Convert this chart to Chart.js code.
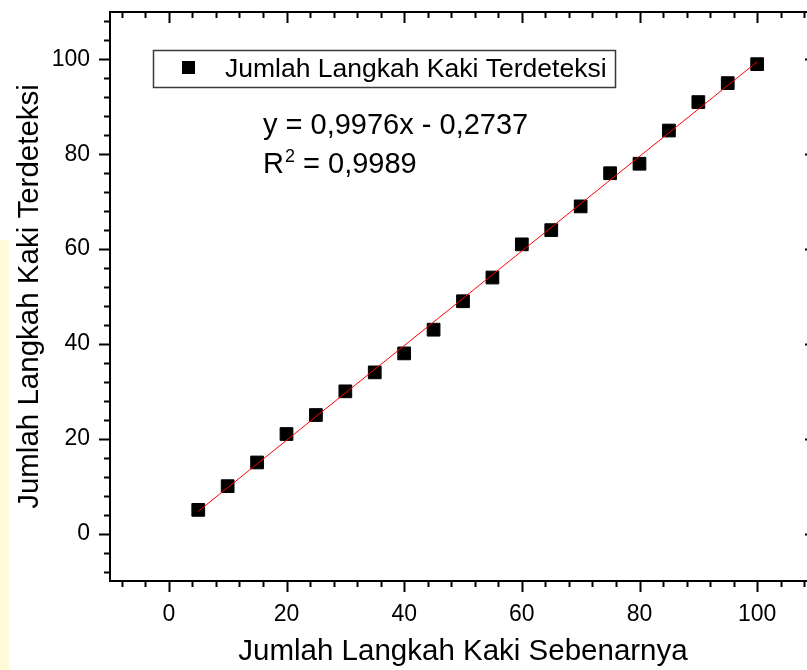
<!DOCTYPE html>
<html>
<head>
<meta charset="utf-8">
<script src="https://cdn.jsdelivr.net/npm/chart.js@4.4.1/dist/chart.umd.min.js"></script>
<style>
  html, body { margin: 0; padding: 0; background: #fff; overflow: hidden; width: 807px; height: 670px; }
  #strip { position: absolute; left: 0; top: 240px; width: 9px; height: 430px; background: #fffbd8; }
  #chart { position: absolute; left: 0; top: 0; }
</style>
</head>
<body>
<div id="strip"></div>
<canvas id="chart" width="830" height="670" style="width:830px;height:670px"></canvas>
<script>
// Step counter: actual vs detected steps, with linear fit
const actualSteps = [5, 10, 15, 20, 25, 30, 35, 40, 45, 50, 55, 60, 65, 70, 75, 80, 85, 90, 95, 100];
const detectedSteps = [5, 10, 15, 21, 25, 30, 34, 38, 43, 49, 54, 61, 64, 69, 76, 78, 85, 91, 95, 99];
const fitX = [5, 100];
const fitY = [4.71, 99.49];
const xTicks = [0, 20, 40, 60, 80, 100];
const yTicks = [0, 20, 40, 60, 80, 100];
const axisMin = -10;
const axisMax = 110;
const minorStep = 4;

const seriesLabel = "Jumlah Langkah Kaki Terdeteksi";
const xTitle = "Jumlah Langkah Kaki Sebenarnya";
const yTitle = "Jumlah Langkah Kaki Terdeteksi";
const eqText = "y = 0,9976x - 0,2737";
const r2Text = "0,9989";

const FONT = "'Liberation Sans', Arial, sans-serif";

// Origin-style frame: outward ticks bottom/left, inward ticks top/right
const frameTicks = {
  id: "frameTicks",
  afterDraw(chart) {
    const { ctx, chartArea: a, scales } = chart;
    const xs = scales.x, ys = scales.y;
    ctx.save();
    ctx.strokeStyle = "#000";
    ctx.lineWidth = 2;
    ctx.beginPath();
    for (let v = axisMin + 2; v < axisMax; v += minorStep) {
      const len = v % 20 === 0 ? 11 : 6;
      const px = Math.round(xs.getPixelForValue(v)) + 0.5;
      ctx.moveTo(px, a.bottom); ctx.lineTo(px, a.bottom + len);
      ctx.moveTo(px, a.top); ctx.lineTo(px, a.top + len);
      const py = Math.round(ys.getPixelForValue(v)) + 0.5;
      ctx.moveTo(a.left, py); ctx.lineTo(a.left - len, py);
      ctx.moveTo(a.right, py); ctx.lineTo(a.right - len, py);
    }
    ctx.stroke();
    ctx.strokeRect(a.left, a.top, a.right - a.left, a.bottom - a.top);

    // legend box
    ctx.lineWidth = 1.5;
    ctx.strokeStyle = "#3a3a3a";
    ctx.strokeRect(153.5, 50.5, 462, 37);
    ctx.fillStyle = "#000";
    ctx.fillRect(182, 61, 13, 13);
    ctx.font = "26.5px " + FONT;
    ctx.textBaseline = "alphabetic";
    ctx.textAlign = "left";
    ctx.fillText(seriesLabel, 225, 77);

    // fit equation
    ctx.font = "29px " + FONT;
    ctx.fillText(eqText, 263, 134);
    ctx.fillText("R", 263, 173);
    const rw = ctx.measureText("R").width;
    ctx.font = "18px " + FONT;
    ctx.fillText("2", 263 + rw + 1, 162);
    const sw = ctx.measureText("2").width;
    ctx.font = "29px " + FONT;
    ctx.fillText(" = " + r2Text, 263 + rw + sw + 1, 173);
    ctx.restore();
  }
};

const points = actualSteps.map((x, i) => ({ x, y: detectedSteps[i] }));
const fitLine = fitX.map((x, i) => ({ x, y: fitY[i] }));

new Chart(document.getElementById("chart"), {
  type: "scatter",
  data: {
    datasets: [
      {
        label: "Linear Fit",
        data: fitLine,
        showLine: true,
        borderColor: "#ff0000",
        borderWidth: 1,
        pointRadius: 0,
        order: 0,
      },
      {
        label: seriesLabel,
        data: points,
        pointStyle: "rect",
        pointRadius: 9,
        backgroundColor: "#000",
        borderColor: "#000",
        borderWidth: 1,
        order: 1,
      },
    ],
  },
  options: {
    responsive: false,
    animation: false,
    layout: { padding: { top: 12, right: 14, bottom: 0, left: 0 } },
    plugins: { legend: { display: false }, tooltip: { enabled: false } },
    scales: {
      x: {
        type: "linear",
        min: axisMin,
        max: axisMax,
        afterBuildTicks: (axis) => { axis.ticks = xTicks.map((v) => ({ value: v })); },
        afterFit: (s) => { s.height = 89; s.paddingLeft = 0; s.paddingRight = 0; },
        grid: { display: false },
        border: { display: false },
        ticks: { color: "#000", font: { family: FONT, size: 23 }, padding: 12, maxRotation: 0, autoSkip: false },
        title: { display: true, text: xTitle, color: "#000", font: { family: FONT, size: 29.5 }, padding: { top: 0, bottom: 0 } },
      },
      y: {
        type: "linear",
        min: axisMin,
        max: axisMax,
        afterBuildTicks: (axis) => { axis.ticks = yTicks.map((v) => ({ value: v })); },
        afterFit: (s) => { s.width = 110; s.paddingTop = 0; s.paddingBottom = 0; },
        grid: { display: false },
        border: { display: false },
        ticks: { color: "#000", font: { family: FONT, size: 23 }, padding: 12, autoSkip: false },
        title: { display: true, text: yTitle, color: "#000", font: { family: FONT, size: 29.5 }, padding: { top: 12, bottom: 0 } },
      },
    },
  },
  plugins: [frameTicks],
});
</script>
</body>
</html>
